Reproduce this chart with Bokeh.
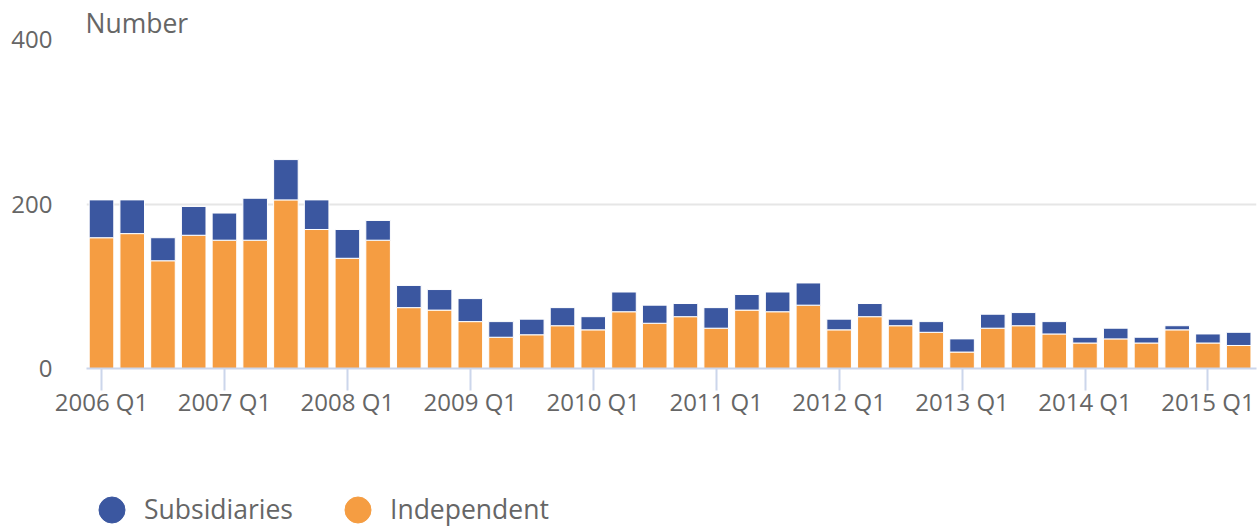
from bokeh.plotting import figure
from bokeh.layouts import column
from bokeh.models import Range1d, FixedTicker, Legend, LegendItem, ColumnDataSource
from bokeh.embed import file_html
from bokeh.resources import INLINE

quarters = [
    "2006 Q1", "2006 Q2", "2006 Q3", "2006 Q4",
    "2007 Q1", "2007 Q2", "2007 Q3", "2007 Q4",
    "2008 Q1", "2008 Q2", "2008 Q3", "2008 Q4",
    "2009 Q1", "2009 Q2", "2009 Q3", "2009 Q4",
    "2010 Q1", "2010 Q2", "2010 Q3", "2010 Q4",
    "2011 Q1", "2011 Q2", "2011 Q3", "2011 Q4",
    "2012 Q1", "2012 Q2", "2012 Q3", "2012 Q4",
    "2013 Q1", "2013 Q2", "2013 Q3", "2013 Q4",
    "2014 Q1", "2014 Q2", "2014 Q3", "2014 Q4",
    "2015 Q1", "2015 Q2",
]
independent = [159, 164, 131, 162, 156, 156, 205, 169, 134, 156,
               74, 71, 57, 38, 41, 52, 47, 69, 55, 63,
               49, 71, 69, 77, 47, 63, 52, 44, 20, 49,
               52, 42, 31, 36, 31, 47, 31, 28]
subsidiaries = [46, 41, 28, 35, 33, 51, 49, 36, 35, 24,
                27, 25, 28, 19, 19, 22, 16, 24, 22, 16,
                25, 19, 24, 27, 13, 16, 8, 13, 16, 17,
                16, 15, 7, 13, 7, 5, 11, 16]
y_ticks = [0, 200, 400]
series_names = ["Subsidiaries", "Independent"]
axis_title = "Number"

BLUE = "#3B57A0"
ORANGE = "#F59D42"
GREY = "#666666"
AXIS = "#CCD6EB"
FONT = "Open Sans"

xs = list(range(len(quarters)))
src = ColumnDataSource(dict(x=xs, quarter=quarters,
                            independent=independent, subsidiaries=subsidiaries))

x_start, x_end = -0.488, 37.58
p = figure(width=1257, height=458, output_backend="svg", toolbar_location=None,
           x_range=Range1d(x_start, x_end), y_range=Range1d(0, 400),
           min_border_left=86, min_border_right=1, min_border_top=39,
           min_border_bottom=90, outline_line_color=None,
           background_fill_color="white", border_fill_color="white")

p.vbar_stack(["independent", "subsidiaries"], x="x", width=0.8, source=src,
             fill_color=[ORANGE, BLUE], line_color="white", line_width=1)

# title used as the y-axis caption
p.title.text = axis_title
p.title.align = "left"
p.title.offset = -1
p.title.standoff = -2
p.title.text_font = FONT
p.title.text_font_size = "26.5px"
p.title.text_font_style = "normal"
p.title.text_color = GREY

# axes
q1_idx = [i for i, q in enumerate(quarters) if q.endswith("Q1")]
p.xaxis.ticker = FixedTicker(ticks=q1_idx)
p.xaxis.major_label_overrides = {i: quarters[i] for i in q1_idx}
p.xaxis.axis_line_color = AXIS
p.xaxis.axis_line_width = 2
p.xaxis.major_tick_line_color = AXIS
p.xaxis.major_tick_line_width = 2
p.xaxis.major_tick_out = 22
p.xaxis.major_tick_in = 0
p.xaxis.minor_tick_line_color = None
p.xaxis.major_label_standoff = -6
p.xaxis.major_label_text_font = FONT
p.xaxis.major_label_text_font_size = "24px"
p.xaxis.major_label_text_color = GREY

p.yaxis.ticker = FixedTicker(ticks=y_ticks)
p.yaxis.axis_line_color = None
p.yaxis.major_tick_line_color = None
p.yaxis.minor_tick_line_color = None
p.yaxis.major_tick_out = 0
p.yaxis.major_tick_in = 0
p.yaxis.major_label_standoff = 34
p.yaxis.major_label_text_font = FONT
p.yaxis.major_label_text_font_size = "24px"
p.yaxis.major_label_text_color = GREY

p.xgrid.grid_line_color = None
p.ygrid.ticker = FixedTicker(ticks=y_ticks)
p.ygrid.grid_line_color = "#E6E6E6"
p.ygrid.grid_line_width = 2

# legend strip (separate small figure beneath the chart)
lg = figure(width=1257, height=68, output_backend="svg", toolbar_location=None,
            x_axis_type=None, y_axis_type=None, x_range=Range1d(0, 1), y_range=Range1d(0, 1),
            min_border_left=0, min_border_right=0, min_border_top=0, min_border_bottom=0,
            outline_line_color=None, background_fill_color="white",
            border_fill_color="white")
lg.xgrid.visible = False
lg.ygrid.visible = False
nan = float("nan")
r_sub = lg.scatter(x=[nan], y=[nan], marker="circle", fill_color=BLUE, line_color=BLUE)
r_ind = lg.scatter(x=[nan], y=[nan], marker="circle", fill_color=ORANGE, line_color=ORANGE)
legend = Legend(items=[LegendItem(label=series_names[0], renderers=[r_sub]),
                       LegendItem(label=series_names[1], renderers=[r_ind])],
                orientation="horizontal", location=(-7, -15.5),
                glyph_width=65, glyph_height=65, label_standoff=-5, spacing=32,
                padding=0, margin=0,
                label_text_font=FONT, label_text_font_size="26.5px",
                label_text_color=GREY, label_text_baseline="middle",
                border_line_color=None, background_fill_alpha=0)
lg.add_layout(legend, "center")

layout = column(p, lg, spacing=0)
open("out.html", "w").write(file_html(layout, INLINE))
